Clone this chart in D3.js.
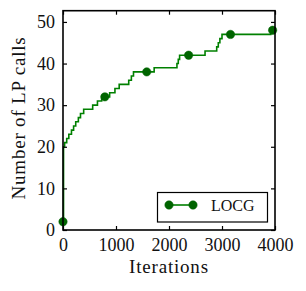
<!DOCTYPE html>
<html><head><meta charset="utf-8">
<script src="https://cdn.jsdelivr.net/npm/d3@7"></script>
<style>
html,body{margin:0;padding:0;background:#fff;}
svg{display:block;font-family:"Liberation Serif","Times New Roman",serif;}
</style></head>
<body>
<svg id="c" width="306" height="291"></svg>
<script>
// Step data: iteration at which the LP-call count changes, and the count
const stepIters = [0, 10, 30, 70, 110, 160, 200, 240, 290, 330, 390, 560, 650, 730, 880, 980, 1060, 1240, 1290, 1330, 1720, 2150, 2175, 2200, 2680, 2900, 2930, 2960, 3000, 3920, 3990];
const stepCalls = [2, 20, 21, 22, 23, 24, 25, 26, 27, 28, 29, 30, 31, 32, 33, 34, 35, 36, 37, 38, 39, 40, 41, 42, 43, 44, 45, 46, 47, 48, 48];
// Marker positions (every ~790 iterations)
const markIters = [0, 790, 1580, 2370, 3160, 3955];
const markCalls = [2, 32, 38, 42, 47, 48];
const xTicks = [0, 1000, 2000, 3000, 4000];
const yTicks = [0, 10, 20, 30, 40, 50];
const seriesName = "LOCG";
const xLabel = "Iterations";
const yLabel = "Number of LP calls";

const svg = d3.select("#c");
const L = 63, R = 275, T = 10.7, B = 230;
const x = d3.scaleLinear().domain([0, 4000]).range([L, R]);
const y = d3.scaleLinear().domain([0, 52.7]).range([B, T]);
const green = "#008000", dark = "#006400";

// line
const line = d3.line().x((d, i) => x(stepIters[i])).y((d, i) => y(stepCalls[i])).curve(d3.curveStepAfter);
svg.append("path").datum(stepIters).attr("d", line)
  .attr("fill", "none").attr("stroke", green).attr("stroke-width", 1.6);

// markers
svg.append("g").selectAll("circle").data(markIters).join("circle")
  .attr("cx", d => x(d)).attr("cy", (d, i) => y(markCalls[i])).attr("r", 4.2)
  .attr("fill", dark).attr("stroke", dark).attr("stroke-width", 0.5);

// axes (ticks inside)
const fmt = d3.format("d");
const ax = [
  {a: d3.axisBottom(x).tickValues(xTicks).tickFormat(fmt), t: `translate(0,${B})`, lab: true},
  {a: d3.axisTop(x).tickValues(xTicks).tickFormat(""), t: `translate(0,${T})`, lab: false},
  {a: d3.axisLeft(y).tickValues(yTicks).tickFormat(fmt), t: `translate(${L},0)`, lab: true},
  {a: d3.axisRight(y).tickValues(yTicks).tickFormat(""), t: `translate(${R},0)`, lab: false}
];
ax.forEach((o, k) => {
  const g = svg.append("g").attr("transform", o.t).call(o.a.tickSizeInner(-4).tickSizeOuter(0).tickPadding(8));
  g.select(".domain").remove();
  g.selectAll(".tick line").attr("stroke", "#000").attr("stroke-width", 1.2);
  g.selectAll("text").attr("font-family", "Liberation Serif").attr("font-size", 18).attr("fill", "#111");
});
// frame
svg.append("rect").attr("x", L).attr("y", T).attr("width", R - L).attr("height", B - T)
  .attr("fill", "none").attr("stroke", "#000").attr("stroke-width", 1.6);

// labels
svg.append("text").attr("x", (L + R) / 2).attr("y", 273).attr("text-anchor", "middle")
  .attr("font-size", 19).attr("letter-spacing", 0.8).attr("fill", "#111").text(xLabel);
svg.append("text").attr("transform", "translate(25,118) rotate(-90)").attr("text-anchor", "middle")
  .attr("font-size", 19).attr("letter-spacing", 0.8).attr("fill", "#111").text(yLabel);

// legend
const lg = svg.append("g");
lg.append("rect").attr("x", 157.5).attr("y", 192.5).attr("width", 110).attr("height", 29.5)
  .attr("fill", "#fff").attr("stroke", "#000").attr("stroke-width", 1.2);
lg.append("line").attr("x1", 169).attr("x2", 193).attr("y1", 205).attr("y2", 205)
  .attr("stroke", green).attr("stroke-width", 1.6);
lg.selectAll("circle").data([169, 193]).join("circle").attr("cx", d => d).attr("cy", 205).attr("r", 4.2)
  .attr("fill", dark).attr("stroke", dark).attr("stroke-width", 0.5);
lg.append("text").attr("x", 211).attr("y", 211).attr("font-size", 16).attr("fill", "#111").text(seriesName);
</script>
</body></html>
